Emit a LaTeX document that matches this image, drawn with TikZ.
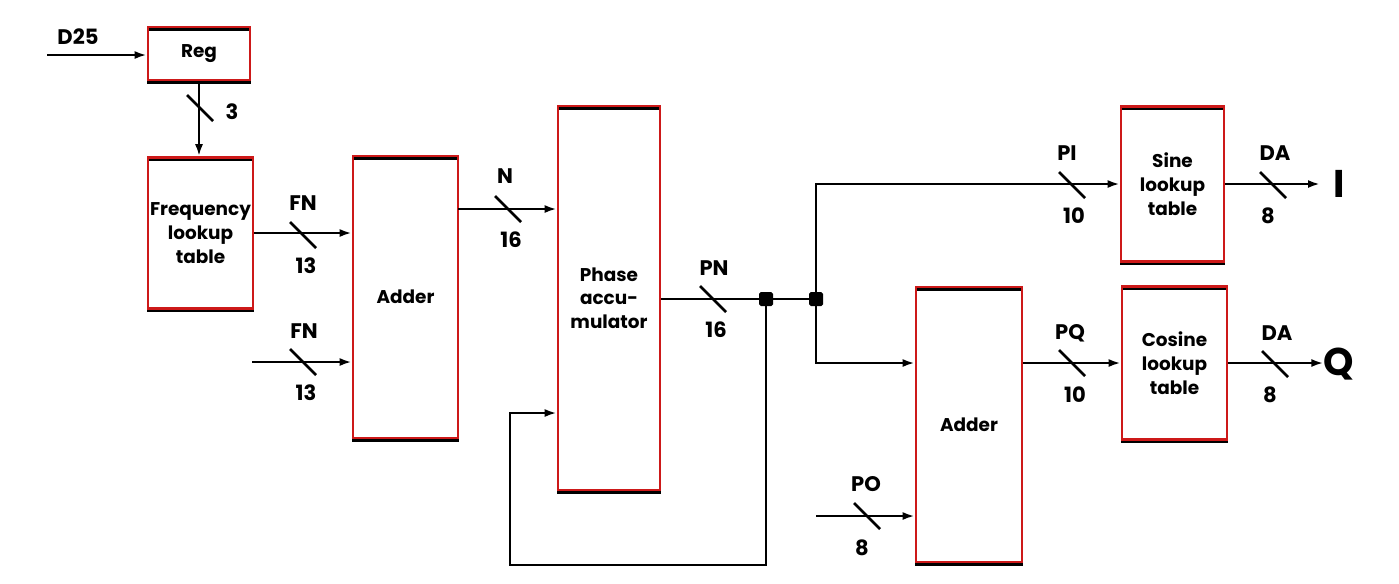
\documentclass[tikz,border=0pt]{standalone}
\usepackage{fontspec}
\setmainfont{Poppins}
\usetikzlibrary{arrows.meta, positioning}
\definecolor{boxred}{RGB}{205,25,25}

\begin{document}
\begin{tikzpicture}[x=0.02cm, y=-0.02cm,
    blk/.style={draw=boxred, line width=1.5pt, align=center, inner sep=0pt,
      font=\bfseries\fontsize{10.5}{13.5}\selectfont,
      preaction={draw=black, line width=1.5pt, transform canvas={yshift=-0.05cm}}},
    sig/.style={line width=1.6pt, -{Latex[length=2.4mm,width=1.6mm]}},
    wire/.style={line width=1.6pt},
    lbl/.style={font=\bfseries\fontsize{12}{14}\selectfont, inner sep=0pt},
    jdot/.style={fill=black, minimum size=0.28cm, inner sep=0pt, rounded corners=1pt}]
  \useasboundingbox (0,0) rectangle (1399,583);

  % Blocks
  \node[blk, minimum width=2.04cm, minimum height=1.06cm] (reg) at (199,53.5) {Reg};
  \node[blk, minimum width=2.1cm, minimum height=3.02cm] (freq) at (200.5,233) {Frequency\\lookup\\table};
  \node[blk, minimum width=2.1cm, minimum height=5.64cm] (add1) at (405.5,297) {Adder};
  \node[blk, minimum width=2.04cm, minimum height=7.68cm] (phase) at (609,298) {Phase\\accu-\\mulator};
  \node[blk, minimum width=2.12cm, minimum height=5.5cm] (add2) at (969,424.5) {Adder};
  \node[blk, minimum width=2.06cm, minimum height=3.1cm] (sine) at (1172.5,184) {Sine\\lookup\\table};
  \node[blk, minimum width=2.1cm, minimum height=3.06cm] (cos) at (1174.5,363) {Cosine\\lookup\\table};

  % Outputs and junctions
  \node[font=\bfseries\fontsize{22}{22}\selectfont, inner sep=0pt] (iout) at (1339,184) {I};
  \node[font=\bfseries\fontsize{22}{22}\selectfont, inner sep=0pt] (qout) at (1339,364) {Q};
  \node[jdot] (j1) at (766,299) {};
  \node[jdot] (j2) at (816,299) {};

  \coordinate (din) at (47,55);
  \coordinate (fn2) at (252,362);
  \coordinate (nin) at (458,209);
  \coordinate (fb) at (510,413);
  \coordinate (po) at (816,516);

  % Connectors
  \draw[sig] (din) -- (din -| reg.west);
  \draw[sig] (reg.south) -- (reg.south |- freq.north);
  \draw[sig] (freq.east) -- (freq.east -| add1.west);
  \draw[sig] (fn2) -- (fn2 -| add1.west);
  \draw[sig] (nin) -- (nin -| phase.west);
  \draw[wire] (phase.east |- j1) -- (j1.center) -- (j2.center);
  \draw[sig] (j1.center) -- ++(0,266) -| (fb) -- (fb -| phase.west);
  \draw[sig] (j2.center) |- (sine.west);
  \draw[sig] (j2.center) |- (cos.west -| add2.west);
  \draw[sig] (add2.east |- cos.west) -- (cos.west);
  \draw[sig] (po) -- (po -| add2.west);
  \draw[sig] (sine.east) -- (1320,184);
  \draw[sig] (cos.east) -- (cos.east -| qout.west);

  % Bus widths
  \foreach \bx/\by in {200/108, 303/235, 303/362, 508/209, 713/299, 1072/185, 1273/185, 1072/363, 1275/364, 867/516}
    \draw[wire] (\bx,\by) ++(-13,-13) -- ++(26,26);

  % Labels
  \node[lbl] (ld25) at (78,37) {D25};
  \node[lbl] (l3) at (232,112) {3};
  \node[lbl] (lfn1) at (303,203) {FN};
  \node[lbl] (lw1) at (306,266) {13};
  \node[lbl] (lfn2) at (304,331) {FN};
  \node[lbl] (lw2) at (306,393) {13};
  \node[lbl] (ln) at (505,176) {N};
  \node[lbl] (lw3) at (511,240) {16};
  \node[lbl] (lpn) at (714,268) {PN};
  \node[lbl] (lw4) at (716,330) {16};
  \node[lbl] (lpi) at (1067,153) {PI};
  \node[lbl] (lw5) at (1074,216) {10};
  \node[lbl] (lda1) at (1275,153) {DA};
  \node[lbl] (lw6) at (1268,216) {8};
  \node[lbl] (lpq) at (1070,333) {PQ};
  \node[lbl] (lw7) at (1075,395) {10};
  \node[lbl] (lda2) at (1277,333) {DA};
  \node[lbl] (lw8) at (1270,395) {8};
  \node[lbl] (lpo) at (866,484) {PO};
  \node[lbl] (lw9) at (862,548) {8};
\end{tikzpicture}
\end{document}
